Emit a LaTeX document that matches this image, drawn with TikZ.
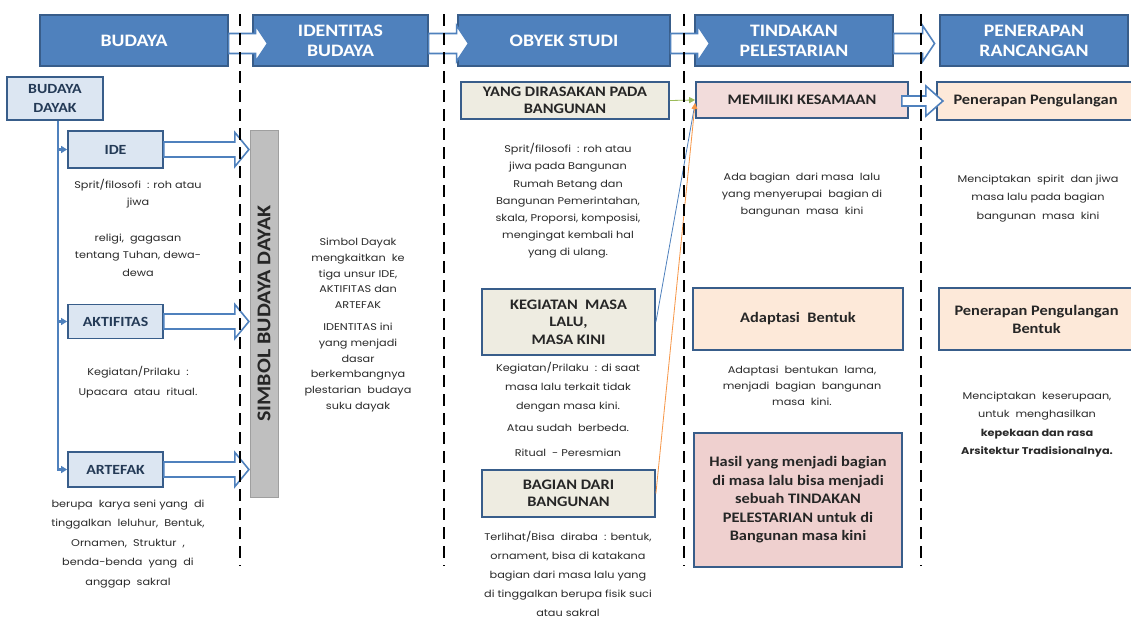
\documentclass[tikz,border=0pt]{standalone}
\usepackage{fontspec}
\setmainfont[FakeStretch=1.13]{Carlito}
\newfontfamily\gothic[FakeStretch=1.15]{Poppins}
\usetikzlibrary{calc,arrows.meta}
\definecolor{hdrfill}{HTML}{4F81BD}
\definecolor{hdrline}{HTML}{385D8A}
\definecolor{lblue}{HTML}{DCE6F2}
\definecolor{beige}{HTML}{EEECE1}
\definecolor{pinkc}{HTML}{F2DCDB}
\definecolor{pinkd}{HTML}{EFD0CF}
\definecolor{peach}{HTML}{FDE9D9}
\definecolor{greybar}{HTML}{BFBFBF}
\definecolor{greenc}{HTML}{9BBB59}
\definecolor{orangec}{HTML}{F79646}
\definecolor{slate}{HTML}{243A56}
\definecolor{bodytext}{HTML}{2A2A2A}
% #1 start coordinate, #2 total length, #3 shaft half height, #4 head half height, #5 head length
\newcommand{\blockarr}[5]{%
  \pgfmathsetmacro{\ba}{#2-#5}%
  \draw[hollow] ($(#1)+(0,-#3)$) -- ($(#1)+(\ba,-#3)$) -- ($(#1)+(\ba,-#4)$)
    -- ($(#1)+(#2,0)$) -- ($(#1)+(\ba,#4)$) -- ($(#1)+(\ba,#3)$)
    -- ($(#1)+(0,#3)$) -- cycle;}
\begin{document}
\begin{tikzpicture}[x=1pt,y=-1pt,
  hdr/.style={draw=hdrline, line width=1.2pt, fill=hdrfill, text=white,
    font=\fontsize{17.5}{20}\selectfont\bfseries, align=center, inner sep=0, minimum height=51},
  lbox/.style={draw=hdrline, line width=1.8pt, fill=lblue, text=slate,
    font=\fontsize{14}{18.5}\selectfont\bfseries, align=center, inner sep=0},
  bbox/.style={draw=hdrline, line width=1.8pt, fill=beige, text=black!85,
    font=\fontsize{14.5}{17.5}\selectfont\bfseries, align=center, inner sep=0},
  pbox/.style={draw=hdrline, line width=1.8pt, fill=pinkc, text=black!85,
    font=\fontsize{14.5}{18.5}\selectfont\bfseries, align=center, inner sep=0},
  obox/.style={draw=hdrline, line width=1.8pt, fill=peach, text=black!85,
    font=\fontsize{14.5}{18}\selectfont\bfseries, align=center, inner sep=0},
  body/.style={font=\gothic\fontsize{9.8}{#1}\selectfont, text=bodytext, align=center, inner sep=0},
  body/.default=17.5,
  hollow/.style={draw=hdrfill, line width=1.6pt, fill=white, line join=miter},
  dashline/.style={draw=black, line width=2.6pt, dash pattern=on 12pt off 7pt},
  conn/.style={draw=hdrfill, line width=2.6pt, -{Triangle[length=6pt,width=7pt]}},
  thin/.style={line width=0.8pt}
]
\useasboundingbox (0,0) rectangle (1131,621);
\fill[white] (0,0) rectangle (1131,621);

% headers
\node[hdr, minimum width=188] (h1) at (134,40.5) {BUDAYA};
\node[hdr, minimum width=175] (h2) at (340.5,40.5) {IDENTITAS\\BUDAYA};
\node[hdr, minimum width=212] (h3) at (564,40.5) {OBYEK STUDI};
\node[hdr, minimum width=198] (h4) at (794,40.5) {TINDAKAN\\PELESTARIAN};
\node[hdr, minimum width=188] (h5) at (1034,40.5) {PENERAPAN\\RANCANGAN};

\coordinate (a1) at ($(h1.east)+(0,3)$);
\coordinate (a2) at ($(h2.east)+(0,3)$);
\coordinate (a3) at ($(h3.east)+(0,3)$);
\coordinate (a4) at ($(h4.east)+(0,3)$);
\blockarr{a1}{39}{10}{18}{12}
\blockarr{a2}{40}{10}{18}{12}
\blockarr{a3}{39}{10}{18}{12}
\blockarr{a4}{41}{10}{18}{12}

% column 1
\node[lbox, minimum width=96, minimum height=43] (bd) at (55,98.5) {BUDAYA\\DAYAK};
\node[lbox, minimum width=95, minimum height=37] (ide) at (115.5,149.5) {IDE};
\node[lbox, minimum width=95, minimum height=34] (akt) at (115.5,321.5) {AKTIFITAS};
\node[lbox, minimum width=95, minimum height=35] (art) at (115.5,469.5) {ARTEFAK};
\coordinate (vtop) at ($(bd.south)+(3,0)$);
\draw[conn] (vtop) |- (art.west);
\draw[conn] (vtop |- ide.west) -- (ide.west);
\draw[conn] (vtop |- akt.west) -- (akt.west);

\node[body] (tide) at (138,227.5) {Sprit/filosofi\ \ : roh atau\\jiwa\\[18pt]religi,\ \ gagasan\\tentang Tuhan,\ dewa-\\dewa};
\node[body=20] (takt) at (138,382) {Kegiatan/Prilaku\ \ :\\Upacara\ \ atau\ \ ritual.};
\node[body=19.5] (tart) at (128,544) {berupa\ \ karya seni yang\ \ di\\tinggalkan\ \ leluhur,\ \ Bentuk,\\Ornamen,\ \ Struktur\ \ ,\\benda-benda\ \ yang\ \ di\\anggap\ \ sakral};

% column 2
\node[draw=gray!75, line width=1pt, fill=greybar, rotate=90, minimum width=367, minimum height=28,
  inner sep=0, text=black!85, font=\fontsize{19.5}{22}\selectfont\bfseries] (bar) at (264,313.5) {SIMBOL BUDAYA DAYAK};
\blockarr{ide.east}{85}{7.5}{17}{14}
\blockarr{akt.east}{85}{7.5}{17}{14}
\blockarr{art.east}{85}{7.5}{17}{14}
\node[body=15.8] (tsim) at (358,325) {Simbol Dayak\\mengkaitkan\ \ ke\\tiga unsur IDE,\\AKTIFITAS dan\\ARTEFAK\\[6pt]IDENTITAS ini\\yang menjadi\\dasar\\berkembangnya\\plestarian\ \ budaya\\suku dayak};

% column 3
\node[bbox, minimum width=208, minimum height=37] (yang) at (565,100.5) {YANG DIRASAKAN PADA\\BANGUNAN};
\node[body=17.2] (t1) at (568,201) {Sprit/filosofi\ \ : roh atau\\jiwa pada Bangunan\\Rumah Betang dan\\Bangunan Pemerintahan,\\skala, Proporsi, komposisi,\\mengingat kembali hal\\yang di ulang.};
\node[bbox, minimum width=173, minimum height=66] (keg) at (568.5,322) {KEGIATAN\ \ MASA\\LALU,\\MASA KINI};
\node[body=19] (t2) at (568,409.5) {Kegiatan/Prilaku\ \ : di saat\\masa lalu terkait tidak\\dengan masa kini.\\[3pt]Atau sudah\ \ berbeda.\\[6pt]Ritual\ \ - Peresmian};
\node[bbox, minimum width=173, minimum height=47] (bag) at (568.5,493.5) {BAGIAN DARI\\BANGUNAN};
\node[body=19] (t3) at (568,573.5) {Terlihat/Bisa\ \ diraba\ \ : bentuk,\\ornament, bisa di katakana\\bagian dari masa lalu yang\\di tinggalkan berupa fisik suci\\atau sakral};

% column 4
\node[pbox, minimum width=212, minimum height=36] (mem) at (802,100) {MEMILIKI KESAMAAN};
\coordinate (memin) at ($(mem.west)+(0,3)$);
\draw[thin, greenc, -{Triangle[length=6pt,width=6pt]}] (yang.east) -- (mem.west);
\draw[thin, hdrfill] (keg.east) -- (memin);
\draw[thin, orangec, -{Triangle[length=6pt,width=6pt]}] (bag.east) -- (memin);
\node[body=17] (tada) at (802,195) {Ada bagian\ \ dari masa\ \ lalu\\yang menyerupai\ \ bagian di\\bangunan\ \ masa\ \ kini};
\node[obox, minimum width=210, minimum height=62] (adap) at (798,319) {Adaptasi\ \ Bentuk};
\node[body=16] (tadap) at (802,386) {Adaptasi\ \ bentukan\ \ lama,\\menjadi\ \ bagian\ \ bangunan\\masa\ \ kini.};
\node[pbox, fill=pinkd, minimum width=208, minimum height=134] (hasil) at (798,500) {Hasil yang menjadi bagian\\di masa lalu bisa menjadi\\sebuah TINDAKAN\\PELESTARIAN untuk di\\Bangunan masa kini};

% column 5
\node[obox, minimum width=197, minimum height=38] (pp) at (1035.5,101) {Penerapan Pengulangan};
\node[body=18.5] (tpp) at (1038,198.5) {Menciptakan\ \ spirit\ \ dan jiwa\\masa lalu pada bagian\\bangunan\ \ masa\ \ kini};
\node[obox, minimum width=195, minimum height=62] (ppb) at (1036.5,319) {Penerapan Pengulangan\\Bentuk};
\node[body=18.3] (tppb) at (1037,424.5) {Menciptakan\ \ keserupaan,\\untuk\ \ menghasilkan\\\textbf{kepekaan dan rasa}\\\textbf{Arsitektur Tradisionalnya.}};
\coordinate (mstart) at ($(mem.east)+(-7,1)$);
\blockarr{mstart}{41}{5}{15}{17}

% dividers
\draw[dashline] (240,14) -- (240,566);
\draw[dashline] (444,14) -- (444,566);
\draw[dashline] (684,14) -- (684,566);
\draw[dashline] (921,14) -- (921,566);
\end{tikzpicture}
\end{document}
